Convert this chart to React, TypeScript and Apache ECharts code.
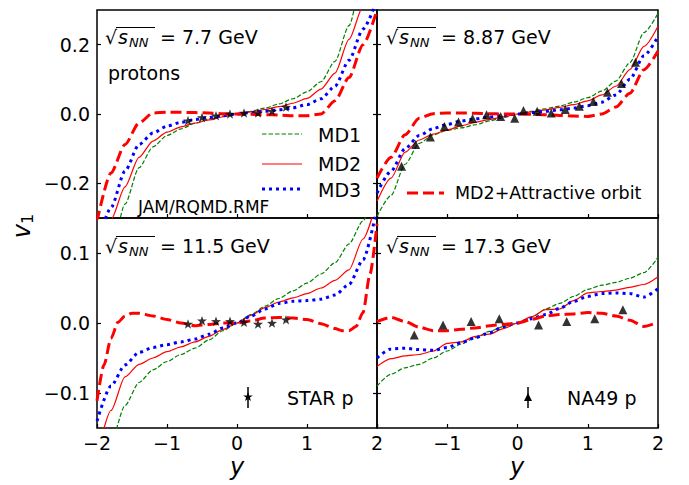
import React, { useEffect, useRef } from "react";
import * as echarts from "echarts";

// Rapidity grid shared by the model curves
const rapidity = [-2, -1.8, -1.6, -1.4, -1.2, -1.0, -0.8, -0.6, -0.4, -0.2, 0, 0.2, 0.4, 0.6, 0.8, 1.0, 1.2, 1.4, 1.6, 1.8, 2.0];

// sqrt(s_NN) = 7.7 GeV
const md1_7p7 = [-0.55, -0.40, -0.26, -0.155, -0.095, -0.062, -0.043, -0.027, -0.014, -0.006, 0, 0.008, 0.017, 0.029, 0.044, 0.064, 0.093, 0.152, 0.255, 0.40, 0.55];
const md2_7p7 = [-0.45, -0.305, -0.21, -0.125, -0.078, -0.052, -0.037, -0.026, -0.017, -0.008, 0, 0.006, 0.013, 0.021, 0.031, 0.045, 0.072, 0.118, 0.215, 0.31, 0.42];
const md3_7p7 = [-0.38, -0.27, -0.165, -0.088, -0.055, -0.035, -0.024, -0.016, -0.010, -0.005, 0, 0.004, 0.008, 0.012, 0.018, 0.027, 0.044, 0.080, 0.155, 0.245, 0.33];
const att_7p7 = [-0.31, -0.17, -0.088, -0.026, 0.003, 0.005, 0.005, 0.004, 0.003, 0.001, 0, -0.001, -0.002, -0.003, -0.005, -0.005, 0.0, 0.038, 0.105, 0.20, 0.30];
const starY_7p7 = [-0.7, -0.5, -0.3, -0.1, 0.1, 0.3, 0.5, 0.7];
const starV1_7p7 = [-0.019, -0.010, -0.005, 0.0, 0.003, 0.003, 0.008, 0.020];

// sqrt(s_NN) = 8.87 GeV
const md1_8p87 = [-0.295, -0.235, -0.145, -0.085, -0.060, -0.047, -0.040, -0.031, -0.020, -0.010, 0, 0.008, 0.015, 0.023, 0.034, 0.047, 0.066, 0.095, 0.148, 0.235, 0.29];
const md2_8p87 = [-0.252, -0.185, -0.110, -0.075, -0.058, -0.046, -0.034, -0.024, -0.016, -0.008, 0, 0.006, 0.012, 0.019, 0.027, 0.038, 0.055, 0.080, 0.128, 0.195, 0.253];
const md3_8p87 = [-0.228, -0.165, -0.100, -0.062, -0.042, -0.030, -0.020, -0.014, -0.009, -0.004, 0, 0.004, 0.008, 0.012, 0.017, 0.024, 0.034, 0.055, 0.100, 0.168, 0.224];
const att_8p87 = [-0.185, -0.125, -0.060, -0.012, 0.001, 0.003, 0.003, 0.002, 0.001, 0.0, 0, -0.001, -0.002, -0.004, -0.006, -0.007, 0.0, 0.020, 0.060, 0.128, 0.182];
const triY_8p87 = [-1.65, -1.45, -1.24, -1.04, -0.84, -0.64, -0.44, -0.24, -0.04, 0.085, 0.28, 0.48, 0.68, 0.88, 1.08, 1.28, 1.48, 1.68];
const triV1_8p87 = [-0.151, -0.088, -0.066, -0.036, -0.023, -0.013, -0.002, -0.007, -0.012, 0.010, 0.008, 0.003, 0.013, 0.022, 0.036, 0.063, 0.088, 0.149];

// sqrt(s_NN) = 11.5 GeV
const md1_11p5 = [-0.22, -0.17, -0.118, -0.085, -0.067, -0.055, -0.045, -0.036, -0.024, -0.011, 0, 0.012, 0.024, 0.035, 0.046, 0.057, 0.070, 0.086, 0.113, 0.146, 0.20];
const md2_11p5 = [-0.19, -0.125, -0.077, -0.059, -0.050, -0.041, -0.034, -0.027, -0.019, -0.009, 0, 0.011, 0.022, 0.030, 0.036, 0.042, 0.050, 0.061, 0.076, 0.120, 0.175];
const md3_11p5 = [-0.14, -0.09, -0.060, -0.042, -0.035, -0.031, -0.027, -0.023, -0.016, -0.007, 0, 0.010, 0.020, 0.028, 0.031, 0.032, 0.034, 0.040, 0.055, 0.090, 0.165];
const attY_11p5 = [-2, -1.9, -1.8, -1.7, -1.6, -1.5, -1.4, -1.2, -1.0, -0.8, -0.6, -0.4, -0.2, 0, 0.2, 0.4, 0.6, 0.8, 1.0, 1.2, 1.4, 1.5, 1.6, 1.7, 1.8, 1.9, 2.0];
const att_11p5 = [-0.111, -0.060, -0.022, 0.001, 0.010, 0.014, 0.014, 0.010, 0.005, 0.0, -0.004, -0.002, 0.0, 0, 0.003, 0.007, 0.008, 0.007, 0.005, -0.001, -0.008, -0.011, -0.011, -0.005, 0.015, 0.070, 0.142];
const starY_11p5 = [-0.7, -0.5, -0.3, -0.1, 0.1, 0.3, 0.5, 0.7];
const starV1_11p5 = [-0.0014, 0.0033, 0.0024, 0.0024, 0.001, -0.0014, 0.0, 0.0048];

// sqrt(s_NN) = 17.3 GeV
const md1_17p3 = [-0.090, -0.073, -0.064, -0.059, -0.050, -0.040, -0.030, -0.021, -0.012, -0.005, 0, 0.008, 0.020, 0.028, 0.038, 0.048, 0.054, 0.058, 0.064, 0.072, 0.094];
const md2_17p3 = [-0.062, -0.051, -0.047, -0.045, -0.040, -0.029, -0.027, -0.019, -0.016, -0.008, 0, 0.009, 0.019, 0.020, 0.032, 0.043, 0.045, 0.047, 0.051, 0.055, 0.066];
const md3_17p3 = [-0.050, -0.037, -0.036, -0.038, -0.039, -0.035, -0.028, -0.021, -0.014, -0.005, 0, 0.006, 0.012, 0.021, 0.031, 0.038, 0.042, 0.043, 0.042, 0.037, 0.049];
const att_17p3 = [0.002, 0.008, 0.002, -0.006, -0.011, -0.011, -0.009, -0.007, -0.004, -0.002, 0, 0.005, 0.010, 0.012, 0.013, 0.015, 0.014, 0.010, 0.004, -0.005, 0.001];
const triY_17p3 = [-1.47, -1.06, -0.66, -0.26, 0.30, 0.70, 1.10, 1.50];
const triV1_17p3 = [-0.017, -0.003, 0.002, 0.006, -0.003, 0.002, 0.006, 0.019];

const energies = ["7.7", "8.87", "11.5", "17.3"];
const yTicksTop = [-0.2, 0, 0.2];
const yTicksBottom = [-0.1, 0, 0.1];

const FONT = '"DejaVu Sans", sans-serif';
const GREEN = "#008000";
const RED = "#ff0000";
const BLUE = "#0000ff";

function starPoints(cx: number, cy: number, R: number, r: number) {
  const pts: number[][] = [];
  for (let k = 0; k < 10; k++) {
    const a = -Math.PI / 2 + (k * Math.PI) / 5;
    const rad = k % 2 === 0 ? R : r;
    pts.push([cx + rad * Math.cos(a), cy + rad * Math.sin(a)]);
  }
  return pts;
}
const starSymbol =
  "path://M" + starPoints(50, 50, 50, 20).map((p) => p[0].toFixed(2) + " " + p[1].toFixed(2)).join(" L") + " Z";

const minus = (s: string) => s.replace("-", "\u2212");

const pair = (xs: number[], ys: number[]) => xs.map((x, i) => [x, ys[i]]);

function curve(panel: number, xs: number[], ys: number[], color: string, width: number, dash: any) {
  return {
    type: "line",
    xAxisIndex: panel,
    yAxisIndex: panel,
    data: pair(xs, ys),
    symbol: "none",
    showSymbol: false,
    smooth: 0.25,
    smoothMonotone: "x",
    clip: true,
    silent: true,
    lineStyle: { color, width, type: dash, cap: "butt" },
    z: 2,
  };
}

function markers(panel: number, xs: number[], ys: number[], symbol: string, size: number) {
  return {
    type: "scatter",
    xAxisIndex: panel,
    yAxisIndex: panel,
    data: pair(xs, ys),
    symbol,
    symbolSize: size,
    symbolKeepAspect: true,
    itemStyle: { color: "#000" },
    silent: true,
    z: 5,
  };
}

function energyLabel(x0: number, y0: number, value: string) {
  return [
    { type: "text", x: x0, y: y0, style: { text: "\u221a", font: `19px ${FONT}`, fill: "#000", verticalAlign: "middle" } },
    { type: "line", shape: { x1: x0 + 11, y1: y0 - 9.5, x2: x0 + 50, y2: y0 - 9.5 }, style: { stroke: "#000", lineWidth: 1 } },
    { type: "text", x: x0 + 13, y: y0, style: { text: "s", font: `italic 19px ${FONT}`, fill: "#000", verticalAlign: "middle" } },
    { type: "text", x: x0 + 24, y: y0 + 5, style: { text: "NN", font: `italic 13px ${FONT}`, fill: "#000", verticalAlign: "middle" } },
    { type: "text", x: x0 + 55, y: y0, style: { text: `= ${value} GeV`, font: `19px ${FONT}`, fill: "#000", verticalAlign: "middle" } },
  ];
}

export default function App() {
  const ref = useRef<HTMLDivElement>(null);

  useEffect(() => {
    if (!ref.current) return;
    const chart = echarts.init(ref.current, undefined, { renderer: "svg" });

    const grids = [
      { left: 97, top: 10, width: 280, height: 208 },
      { left: 377, top: 10, width: 281, height: 208 },
      { left: 97, top: 218, width: 280, height: 210 },
      { left: 377, top: 218, width: 281, height: 210 },
    ].map((g) => ({ ...g, show: true, borderColor: "#000", borderWidth: 1.5, backgroundColor: "transparent" }));

    const tickStyle = { inside: true, length: 4, lineStyle: { color: "#000", width: 1.2 } };
    const labelStyle = { color: "#000", fontFamily: FONT, fontSize: 19 };

    const xAxis = [0, 1, 2, 3].map((i) => ({
      type: "value",
      gridIndex: i,
      position: "bottom",
      min: -2,
      max: 2,
      interval: 1,
      axisLine: { show: false, onZero: false },
      splitLine: { show: false },
      axisTick: { ...tickStyle },
      axisLabel: {
        show: i >= 2,
        ...labelStyle,
        margin: 5,
        showMinLabel: true,
        showMaxLabel: true,
        formatter: (v: number) => (i === 3 && v === -2 ? "" : minus(String(v))),
      },
    }));

    // left axes carry labels; the inner right edge of the left panels carries ticks only
    const yAxis: any[] = [];
    for (let side = 0; side < 2; side++) {
      for (let i = 0; i < 4; i++) {
        const top = i < 2;
        const ticks = top ? yTicksTop : yTicksBottom;
        const isLeftPanel = i === 0 || i === 2;
        yAxis.push({
          type: "value",
          gridIndex: i,
          position: side === 0 ? "left" : "right",
          min: top ? -0.3 : -0.15,
          max: top ? 0.3 : 0.15,
          axisLine: { show: false, onZero: false },
          splitLine: { show: false },
          axisTick: { ...tickStyle, show: side === 0 || isLeftPanel, customValues: ticks },
          axisLabel: {
            show: side === 0 && isLeftPanel,
            customValues: ticks,
            ...labelStyle,
            margin: 7,
            formatter: (v: number) => minus(v.toFixed(1)),
          },
        });
      }
    }

    const series: any[] = [];
    const panels = [
      { md1: md1_7p7, md2: md2_7p7, md3: md3_7p7, attX: rapidity, att: att_7p7 },
      { md1: md1_8p87, md2: md2_8p87, md3: md3_8p87, attX: rapidity, att: att_8p87 },
      { md1: md1_11p5, md2: md2_11p5, md3: md3_11p5, attX: attY_11p5, att: att_11p5 },
      { md1: md1_17p3, md2: md2_17p3, md3: md3_17p3, attX: rapidity, att: att_17p3 },
    ];
    panels.forEach((p, i) => {
      series.push(curve(i, rapidity, p.md1, GREEN, 1.2, [4.5, 2]));
      series.push(curve(i, rapidity, p.md2, RED, 1.2, "solid"));
      series.push(curve(i, rapidity, p.md3, BLUE, 3, [3, 4]));
      series.push(curve(i, p.attX, p.att, RED, 3, [11, 5]));
    });
    series.push(markers(0, starY_7p7, starV1_7p7, starSymbol, 10));
    series.push(markers(1, triY_8p87, triV1_8p87, "triangle", 9));
    series.push(markers(2, starY_11p5, starV1_11p5, starSymbol, 10));
    series.push(markers(3, triY_17p3, triV1_17p3, "triangle", 9));

    const txt = (x: number, y: number, text: string, size: number, extra: any = {}) => ({
      type: "text",
      x,
      y,
      style: { text, font: `${extra.italic ? "italic " : ""}${size}px ${FONT}`, fill: "#000", align: extra.align || "left", verticalAlign: "middle" },
    });
    const seg = (x1: number, y: number, x2: number, color: string, width: number, dash: any) => ({
      type: "line",
      shape: { x1, y1: y, x2, y2: y },
      style: { stroke: color, lineWidth: width, lineDash: dash, lineCap: "butt" },
    });

    const graphic: any[] = [
      ...energyLabel(105, 37, energies[0]),
      ...energyLabel(386, 37, energies[1]),
      ...energyLabel(105, 246, energies[2]),
      ...energyLabel(386, 246, energies[3]),
      txt(108, 73, "protons", 19),
      seg(262, 134, 302, GREEN, 1.2, [4.5, 2]),
      txt(318, 135, "MD1", 19),
      seg(262, 164, 302, RED, 1.2, null),
      txt(318, 164, "MD2", 19),
      seg(262, 189, 302, BLUE, 3, [3, 4]),
      txt(318, 190, "MD3", 19),
      txt(138, 207, "JAM/RQMD.RMF", 17),
      seg(407, 193, 444, RED, 3, [11, 5]),
      txt(455, 193, "MD2+Attractive orbit", 17.5),
      // STAR legend entry
      { type: "line", shape: { x1: 248, y1: 387, x2: 248, y2: 408 }, style: { stroke: "#000", lineWidth: 1.5 } },
      { type: "polygon", shape: { points: starPoints(248, 397, 5, 2) }, style: { fill: "#000" } },
      txt(287, 398, "STAR p", 19),
      // NA49 legend entry
      { type: "line", shape: { x1: 528, y1: 387, x2: 528, y2: 408 }, style: { stroke: "#000", lineWidth: 1.5 } },
      { type: "polygon", shape: { points: [[528, 393], [532, 401], [524, 401]] }, style: { fill: "#000" } },
      txt(567, 398, "NA49 p", 19),
      // axis titles
      txt(237, 467, "y", 24, { italic: true, align: "center" }),
      txt(517, 467, "y", 24, { italic: true, align: "center" }),
      {
        type: "text",
        x: 22,
        y: 226,
        rotation: Math.PI / 2,
        style: {
          text: "{v|v}{s|1}",
          align: "center",
          verticalAlign: "middle",
          fill: "#000",
          rich: {
            v: { font: `italic 24px ${FONT}`, fill: "#000" },
            s: { font: `16px ${FONT}`, fill: "#000", padding: [10, 0, 0, 0] },
          },
        },
      },
    ];

    chart.setOption({
      animation: false,
      backgroundColor: "#fff",
      grid: grids,
      xAxis,
      yAxis,
      series,
      graphic,
    });

    return () => chart.dispose();
  }, []);

  return <div ref={ref} style={{ position: "absolute", left: 0, top: 0, width: 689, height: 485 }} />;
}
